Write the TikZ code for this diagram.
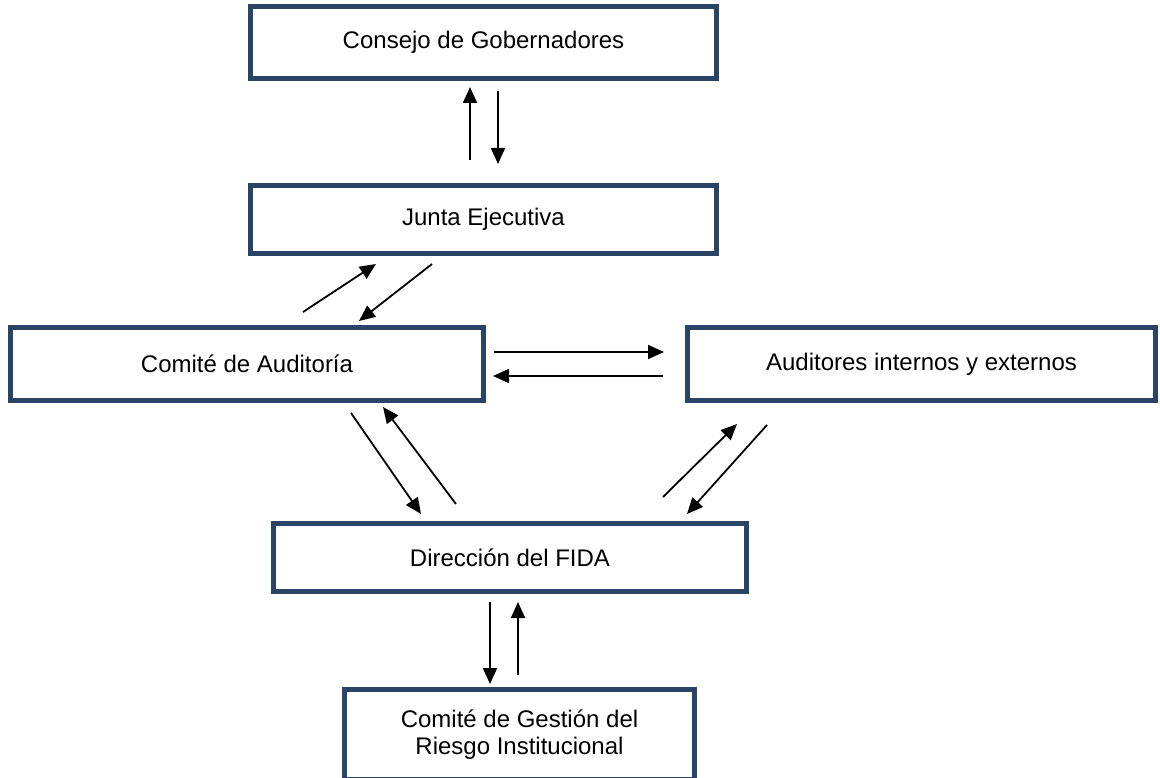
\documentclass[tikz,border=0pt]{standalone}
\usepackage{fontspec}
\setmainfont{Liberation Sans}
\usetikzlibrary{arrows.meta}
\definecolor{navy}{RGB}{42,68,102}
\begin{document}
\begin{tikzpicture}[x=1pt,y=-1pt,
  box/.style={draw=navy, line width=5pt, fill=white, rectangle, inner sep=0pt, align=center,
    font=\fontsize{24}{27.6}\selectfont},
  arr/.style={line width=1.8pt, -{Triangle[length=16pt,width=14pt]}}]
\useasboundingbox[fill=white] (0,0) rectangle (1160,778);
% boxes
\node[box, minimum width=466pt, minimum height=72pt] (cons) at (483.5,42.5) {Consejo de Gobernadores};
\node[box, minimum width=466pt, minimum height=68pt] (junta) at (483.5,219.5) {Junta Ejecutiva};
\node[box, minimum width=473pt, minimum height=73pt] (audit) at (247,364) {Comité de Auditoría};
\node[box, minimum width=468pt, minimum height=73pt] (ext) at (921.5,364) {Auditores internos y externos};
\node[box, minimum width=473pt, minimum height=68pt] (dir) at (510,557.5) {Dirección del FIDA};
\node[box, minimum width=350pt, minimum height=90pt] (ges) at (519.5,734.5) {Comité de Gestión del\\Riesgo Institucional};
% arrow end points
\coordinate (a1s) at (470,160); \coordinate (a1e) at (470,87);
\coordinate (a2s) at (498,91);  \coordinate (a2e) at (498,164);
\coordinate (b1s) at (303,312); \coordinate (b1e) at (376,264);
\coordinate (b2s) at (432,264); \coordinate (b2e) at (359,321);
\coordinate (c1s) at (494,352); \coordinate (c1e) at (664,352);
\coordinate (c2s) at (663,376); \coordinate (c2e) at (493,376);
\coordinate (d1s) at (351,413); \coordinate (d1e) at (421,514);
\coordinate (d2s) at (456,504); \coordinate (d2e) at (383,407);
\coordinate (e1s) at (663,497); \coordinate (e1e) at (737,424);
\coordinate (e2s) at (767,425); \coordinate (e2e) at (687,514);
\coordinate (f1s) at (490,602); \coordinate (f1e) at (490,684);
\coordinate (f2s) at (518,675); \coordinate (f2e) at (518,602);
% connectors
\draw[arr] (a1s) -- (a1e);
\draw[arr] (a2s) -- (a2e);
\draw[arr] (b1s) -- (b1e);
\draw[arr] (b2s) -- (b2e);
\draw[arr] (c1s) -- (c1e);
\draw[arr] (c2s) -- (c2e);
\draw[arr] (d1s) -- (d1e);
\draw[arr] (d2s) -- (d2e);
\draw[arr] (e1s) -- (e1e);
\draw[arr] (e2s) -- (e2e);
\draw[arr] (f1s) -- (f1e);
\draw[arr] (f2s) -- (f2e);
\end{tikzpicture}
\end{document}
